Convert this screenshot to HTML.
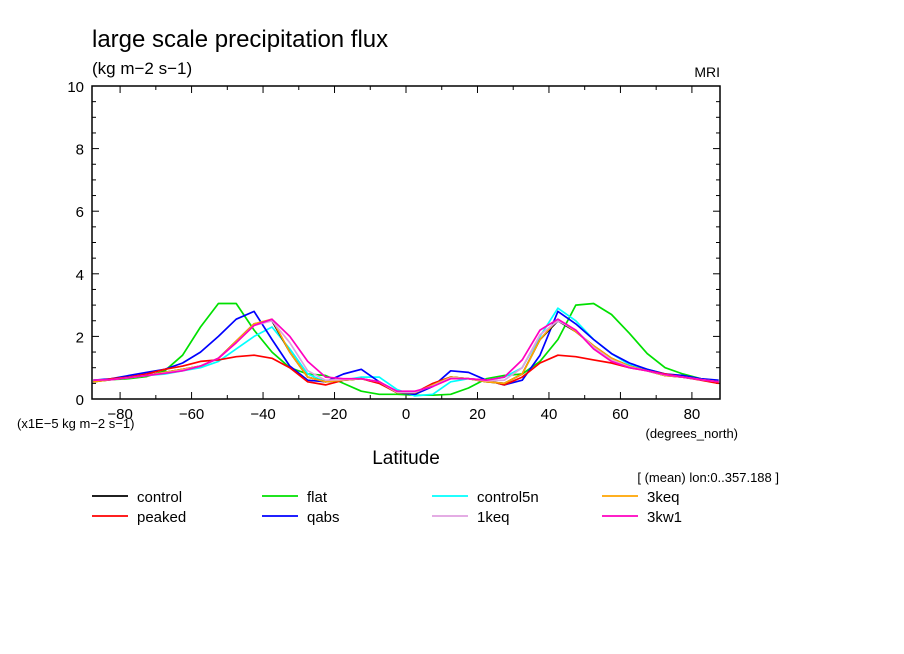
<!DOCTYPE html>
<html><head><meta charset="utf-8"><style>
html,body{margin:0;padding:0;background:#fff;width:904px;height:654px;overflow:hidden}
svg{display:block}
text{font-family:"Liberation Sans",sans-serif;fill:#000}
</style></head><body>
<svg id="chart" width="904" height="654">
<text x="92" y="47" font-size="24">large scale precipitation flux</text>
<text x="92" y="74" font-size="17">(kg m−2 s−1)</text>
<text x="720" y="77" font-size="14" text-anchor="end">MRI</text>
<text x="17" y="428" font-size="13">(x1E−5 kg m−2 s−1)</text>
<text x="738" y="438" font-size="13" text-anchor="end">(degrees_north)</text>
<text x="406" y="464" font-size="19" text-anchor="middle">Latitude</text>
<text x="779" y="482" font-size="13" text-anchor="end">[ (mean) lon:0..357.188 ]</text>
<g id="grid"></g><g id="series"></g><g id="legend"></g>
<rect x="92" y="86" width="628" height="313" fill="none" stroke="#000" stroke-width="1.5"/>
</svg>
<script>
const lats=[-87.5,-82.5,-77.5,-72.5,-67.5,-62.5,-57.5,-52.5,-47.5,-42.5,-37.5,-32.5,-27.5,-22.5,-17.5,-12.5,-7.5,-2.5,2.5,7.5,12.5,17.5,22.5,27.5,32.5,37.5,42.5,47.5,52.5,57.5,62.5,67.5,72.5,77.5,82.5,87.5];
const seriesNames=["control","peaked","flat","qabs","control5n","1keq","3keq","3kw1"];
const seriesColors=["#000000","#ff0000","#00e000","#0000ff","#00ffff","#e0a0e0","#ffa500","#ff00c0"];
const control=[0.55,0.62,0.68,0.75,0.85,0.95,1.05,1.3,1.85,2.4,2.5,1.5,0.7,0.55,0.6,0.65,0.55,0.2,0.2,0.45,0.7,0.65,0.55,0.5,0.8,1.9,2.5,2.15,1.7,1.3,1.05,0.9,0.75,0.7,0.62,0.55];
const peaked=[0.55,0.65,0.7,0.8,0.95,1.05,1.2,1.25,1.35,1.4,1.3,1.0,0.55,0.45,0.6,0.65,0.5,0.2,0.2,0.5,0.7,0.65,0.6,0.45,0.7,1.15,1.4,1.35,1.25,1.15,1.0,0.9,0.8,0.7,0.6,0.5];
const flat=[0.6,0.62,0.65,0.72,0.9,1.4,2.3,3.05,3.05,2.2,1.5,1.0,0.8,0.75,0.5,0.25,0.15,0.15,0.12,0.12,0.15,0.35,0.65,0.75,0.8,1.2,1.9,3.0,3.05,2.7,2.1,1.45,1.0,0.8,0.65,0.55];
const qabs=[0.6,0.65,0.75,0.85,0.95,1.15,1.5,2.0,2.55,2.8,1.9,1.05,0.6,0.55,0.8,0.95,0.55,0.2,0.15,0.4,0.9,0.85,0.6,0.45,0.6,1.4,2.8,2.4,1.9,1.45,1.15,0.95,0.8,0.75,0.65,0.6];
const control5n=[0.6,0.62,0.68,0.75,0.8,0.9,1.0,1.2,1.6,2.0,2.3,1.6,0.8,0.55,0.6,0.7,0.7,0.3,0.1,0.15,0.55,0.65,0.6,0.7,1.0,2.0,2.9,2.5,1.9,1.45,1.1,0.95,0.8,0.7,0.65,0.55];
const keq1=[0.6,0.62,0.68,0.75,0.83,0.92,1.05,1.3,1.8,2.35,2.5,1.8,0.9,0.6,0.62,0.65,0.55,0.22,0.22,0.42,0.67,0.65,0.58,0.6,1.0,2.05,2.5,2.2,1.65,1.25,1.02,0.9,0.77,0.7,0.62,0.55];
const keq3=[0.55,0.62,0.68,0.75,0.85,0.95,1.05,1.3,1.85,2.4,2.55,1.5,0.7,0.55,0.6,0.65,0.55,0.2,0.2,0.45,0.7,0.65,0.55,0.5,0.8,1.9,2.55,2.15,1.7,1.3,1.05,0.9,0.75,0.7,0.62,0.55];
const kw1=[0.6,0.62,0.68,0.75,0.82,0.9,1.05,1.3,1.8,2.35,2.55,2.0,1.2,0.7,0.65,0.65,0.55,0.25,0.25,0.4,0.65,0.65,0.6,0.7,1.25,2.2,2.55,2.2,1.6,1.2,1.0,0.9,0.78,0.7,0.62,0.55];
const seriesValues=[control,peaked,flat,qabs,control5n,keq1,keq3,kw1];
const drawOrder=[2,4,3,1,0,6,5,7];
const xTicks=[-80,-60,-40,-20,0,20,40,60,80];
const yTicks=[0,2,4,6,8,10];
const x0=92,x1=720,y0=399,y1=86,latMin=-87.86,latMax=87.86,vMin=0,vMax=10;
function X(l){return x0+(l-latMin)/(latMax-latMin)*(x1-x0);}
function Y(v){return y0-(v-vMin)/(vMax-vMin)*(y0-y1);}
const NS="http://www.w3.org/2000/svg";
function mk(t,a,p){const e=document.createElementNS(NS,t);for(const k in a)e.setAttribute(k,a[k]);p.appendChild(e);return e;}
const grid=document.getElementById('grid');
for(let l=-80;l<=80;l+=10){const big=l%20===0;
 let t=mk('line',{x1:X(l),x2:X(l),y1:y0,y2:y0-(big?7:4),stroke:'#000'},grid);
 
 t=mk('line',{x1:X(l),x2:X(l),y1:y1,y2:y1+(big?7:4),stroke:'#000'},grid);
 }
xTicks.forEach(l=>{const t=mk('text',{x:X(l),y:419,'font-size':15,'text-anchor':'middle'},grid);t.textContent=l<0?'−'+(-l):String(l);
 });
for(let v=0;v<=10;v+=0.5){const big=v%2===0;
 let t=mk('line',{x1:x0,x2:x0+(big?7:4),y1:Y(v),y2:Y(v),stroke:'#000'},grid);
 
 t=mk('line',{x1:x1,x2:x1-(big?7:4),y1:Y(v),y2:Y(v),stroke:'#000'},grid);
 }
yTicks.forEach(v=>{const t=mk('text',{x:84,y:Y(v)+6,'font-size':15,'text-anchor':'end'},grid);t.textContent=String(v);
 });
const sg=document.getElementById('series');
drawOrder.forEach(i=>{const pts=lats.map((l,j)=>X(l).toFixed(1)+','+Y(seriesValues[i][j]).toFixed(1)).join(' ');
 const p=mk('polyline',{points:pts,fill:'none',stroke:seriesColors[i],'stroke-width':1.7,'stroke-linejoin':'round'},sg);
 });
const lg=document.getElementById('legend');
const legendOrder=[0,2,4,6,1,3,5,7];
legendOrder.forEach((i,k)=>{const col=k%4,row=Math.floor(k/4);const lx=92+col*170,ly=496+row*20;
 const g=mk('g',{},lg);
 mk('line',{x1:lx,x2:lx+36,y1:ly,y2:ly,stroke:seriesColors[i],'stroke-width':1.8},g);
 const t=mk('text',{x:lx+45,y:ly+6,'font-size':15},g);t.textContent=seriesNames[i];});
</script>
</body></html>
